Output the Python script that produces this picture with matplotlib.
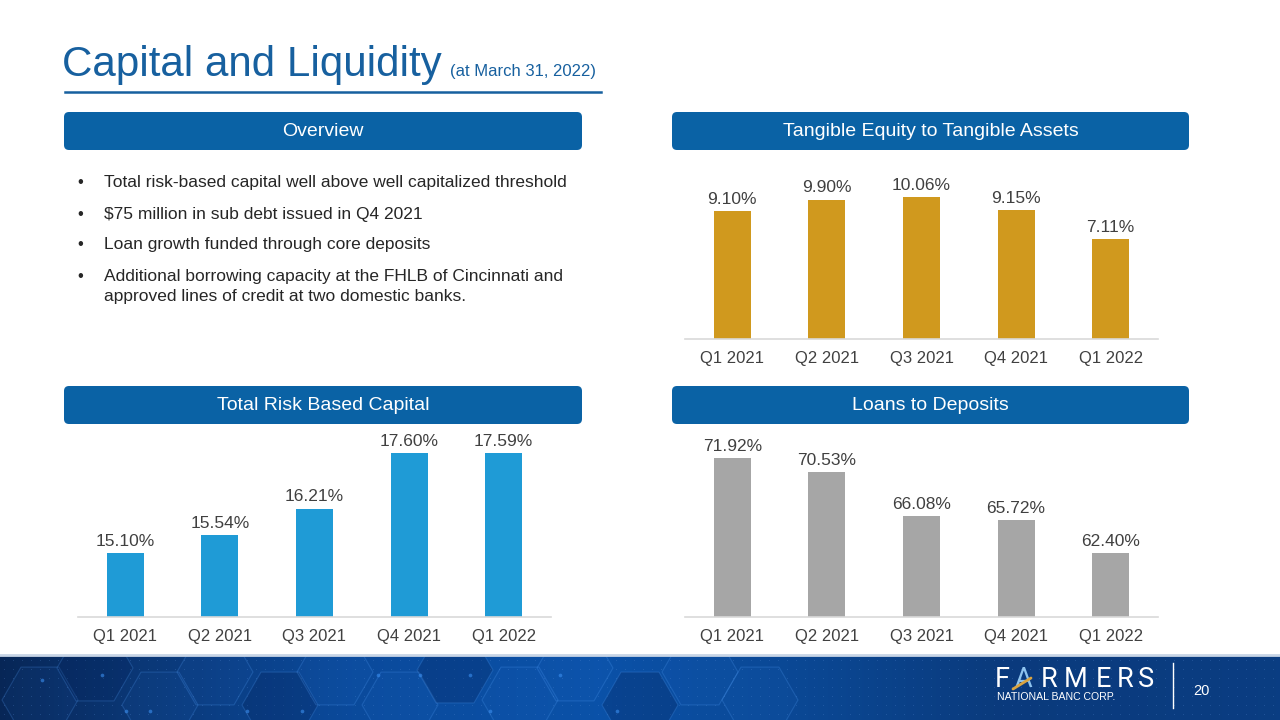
import numpy as np
import matplotlib
matplotlib.use('Agg')
import matplotlib.pyplot as plt
from matplotlib.patches import FancyBboxPatch, RegularPolygon, Rectangle

plt.rcParams['font.family'] = ['Liberation Sans', 'DejaVu Sans']

# data
quarters = ['Q1 2021', 'Q2 2021', 'Q3 2021', 'Q4 2021', 'Q1 2022']
tangible_equity = [9.10, 9.90, 10.06, 9.15, 7.11]
total_risk_capital = [15.10, 15.54, 16.21, 17.60, 17.59]
loans_to_deposits = [71.92, 70.53, 66.08, 65.72, 62.40]

overview_lines = [
    ('•', 'Total risk-based capital well above well capitalized threshold'),
    ('•', '$75 million in sub debt issued in Q4 2021'),
    ('•', 'Loan growth funded through core deposits'),
    ('•', 'Additional borrowing capacity at the FHLB of Cincinnati and'),
    ('', 'approved lines of credit at two domestic banks.'),
]

W, H = 1280, 720
BLUE = '#0A62A5'
TXT = '#404040'

fig = plt.figure(figsize=(12.8, 7.2), dpi=100)
bg = fig.add_axes([0, 0, 1, 1])
bg.set_xlim(0, W)
bg.set_ylim(H, 0)
bg.axis('off')

# title
bg.text(62, 76, 'Capital and Liquidity', fontsize=30.3, color='#17609F', va='baseline', ha='left')
bg.text(450, 76, '(at March 31, 2022)', fontsize=12, color='#17609F', va='baseline', ha='left')
bg.plot([65, 601], [91.5, 91.5], color='#17609F', lw=1.8)


def header(x0, x1, y0, y1, label):
    box = FancyBboxPatch((x0, y0), x1 - x0, y1 - y0,
                         boxstyle='round,pad=0,rounding_size=5',
                         fc=BLUE, ec='none')
    bg.add_patch(box)
    bg.text((x0 + x1) / 2, (y0 + y1) / 2 + 1, label, color='white', fontsize=14,
            ha='center', va='center')


header(64, 582, 112, 150, 'Overview')
header(672, 1189, 112, 150, 'Tangible Equity to Tangible Assets')
header(64, 582, 386, 424, 'Total Risk Based Capital')
header(672, 1189, 386, 424, 'Loans to Deposits')

# overview bullets
line_y = [183, 214, 245, 276, 296]
for (b, t), y in zip(overview_lines, line_y):
    if b:
        bg.text(77, y, b, fontsize=12, color='#262626', va='center')
    bg.text(104, y, t, fontsize=12.5, color='#262626', va='center')

# footer background
stops_x = [0, 120, 350, 600, 850, 1000, 1280]
stops_c = [(0.03, 0.15, 0.34), (0.04, 0.21, 0.45), (0.04, 0.29, 0.61),
           (0.04, 0.32, 0.66), (0.04, 0.27, 0.56), (0.04, 0.23, 0.49), (0.04, 0.24, 0.51)]
gx = np.linspace(0, W, 640)
grad = np.stack([np.interp(gx, stops_x, [c[i] for c in stops_c]) for i in range(3)], axis=-1)
grad = np.repeat(grad[None, :, :], 2, axis=0)
bg.imshow(grad, extent=[0, W, H, 655], aspect='auto', zorder=0)
bg.set_xlim(0, W)
bg.set_ylim(H, 0)
footer_clip = Rectangle((0, 655), W, 65, transform=bg.transData)

# dotted texture
dx, dy = np.meshgrid(np.arange(4, W, 9), np.arange(660, H, 9))
bg.scatter(dx.ravel(), dy.ravel(), s=0.6, color='#5b8fd6', alpha=0.3, lw=0, zorder=1)

# hexagon decoration
hex_centers = [(40, 700), (95, 668), (160, 705), (215, 672), (280, 705), (335, 672),
               (400, 705), (455, 670), (520, 700), (575, 668), (640, 705), (700, 672),
               (760, 700)]
for i, (hx, hy) in enumerate(hex_centers):
    fill = (0.02, 0.14, 0.36, 0.30) if i % 3 == 1 else (0.2, 0.5, 0.9, 0.06)
    hp = RegularPolygon((hx, hy), numVertices=6, radius=38, orientation=np.pi / 6,
                        fc=fill, ec=(0.35, 0.65, 1.0, 0.22), lw=0.8, zorder=1)
    bg.add_patch(hp)
    hp.set_clip_path(footer_clip)
node_x = [42, 102, 126, 150, 247, 302, 378, 420, 470, 490, 560, 617]
node_y = [680, 675, 711, 711, 711, 711, 675, 675, 675, 711, 675, 711]
bg.scatter(node_x, node_y, s=7, color='#3b8ff0', alpha=0.6, lw=0, zorder=2)
bg.plot([0, W], [655, 655], color='#c8d5e6', lw=2, zorder=3)

# logo
logo_chars = 'FARMERS'
logo_cx = [1002, 1023, 1049, 1076, 1103, 1125, 1146]
for i, (ch, lx) in enumerate(zip(logo_chars, logo_cx)):
    bg.text(lx, 687, ch, fontsize=19.5, color='#8ec3ee' if i == 1 else 'white',
            family=['Roboto', 'Liberation Sans'],
            ha='center', va='baseline', zorder=4)
bg.plot([1013, 1031], [689, 678], color='#d9a441', lw=2, zorder=5, solid_capstyle='round')
bg.text(997, 697, 'NATIONAL BANC CORP.', fontsize=7.6, color='white',
        ha='left', va='center', zorder=4)
bg.plot([1173, 1173], [663, 708], color='white', lw=1, zorder=4)
bg.text(1193, 691, '20', fontsize=10.5, color='white', ha='left', va='center', zorder=4)


def bar_panel(rect, values, color, ylim):
    ax = fig.add_axes(rect)
    ax.patch.set_alpha(0)
    x = np.arange(len(quarters))
    bars = ax.bar(x, values, width=0.39, color=color, zorder=2)
    ax.set_xlim(-0.5, len(quarters) - 0.5)
    ax.set_ylim(*ylim)
    ax.set_xticks(x, quarters)
    ax.set_yticks([])
    ax.tick_params(axis='x', length=0, pad=9, labelsize=12, labelcolor=TXT)
    for s in ['top', 'right', 'left']:
        ax.spines[s].set_visible(False)
    ax.spines['bottom'].set_color('#D9D9D9')
    ax.spines['bottom'].set_linewidth(1.2)
    ax.bar_label(bars, labels=[f'{v:.2f}%' for v in values], padding=3,
                 fontsize=12.5, color=TXT)
    return ax


bar_panel([685 / W, (H - 339) / H, 473 / W, 169 / H], tangible_equity, '#D0991E', (0, 12))
bar_panel([78 / W, (H - 617) / H, 473 / W, 180 / H], total_risk_capital, '#1F9BD6', (13.5, 18))
bar_panel([685 / W, (H - 617) / H, 473 / W, 180 / H], loans_to_deposits, '#A6A6A6', (56, 74))

fig.savefig('out.png', dpi=100)
